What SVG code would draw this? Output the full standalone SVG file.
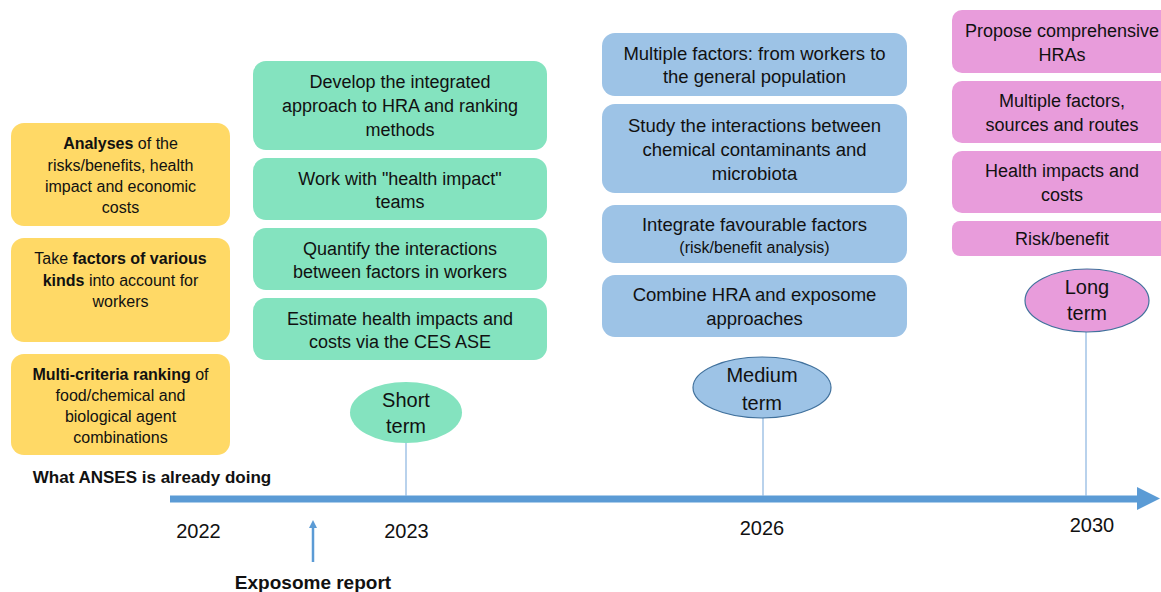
<svg xmlns="http://www.w3.org/2000/svg" width="1161" height="592" viewBox="0 0 1161 592">
<defs>
<style>
text{font-family:"Liberation Sans",Arial,sans-serif;fill:#111;text-anchor:middle}
.y{fill:#FFD966}
.g{fill:#84E3BF}
.b{fill:#9DC3E6}
.p{fill:#E89CDB}
.ty{font-size:16px}
.tb{font-size:18px}
.tl{font-size:18.5px}
.te{font-size:20px}
.bold{font-weight:bold}
.tick{stroke:#8AB4E0;stroke-width:1.2;fill:none}
.yr{font-size:20px}
</style>
<marker id="ah" markerWidth="8" markerHeight="8" refX="4" refY="4" orient="auto" markerUnits="userSpaceOnUse">
<path d="M0,0 L8,4 L0,8 z" fill="#5B9BD5"/>
</marker>
</defs>
<rect width="1161" height="592" fill="#fff"/>

<g id="connectors">
<rect x="170" y="495.5" width="970" height="7" fill="#5B9BD5"/>
<path d="M1137,487 L1160,498.5 L1137,510 z" fill="#5B9BD5"/>
<line class="tick" x1="406" y1="443" x2="406" y2="496"/>
<line class="tick" x1="763" y1="418" x2="763" y2="496"/>
<line class="tick" x1="1086" y1="332" x2="1086" y2="496"/>
<line x1="313" y1="562" x2="313" y2="524" stroke="#5B9BD5" stroke-width="2.5" marker-end="url(#ah)"/>
</g>

<g id="yellow1">
<rect class="y" x="11" y="123" width="219" height="103" rx="13"/>
<text class="ty" x="120.5" y="149"><tspan class="bold">Analyses</tspan> of the</text>
<text class="ty" x="120.5" y="170.5">risks/benefits, health</text>
<text class="ty" x="120.5" y="191.5">impact and economic</text>
<text class="ty" x="120.5" y="212.5">costs</text>
</g>
<g id="yellow2">
<rect class="y" x="11" y="238" width="219" height="104" rx="13"/>
<text class="ty" x="120.5" y="264">Take <tspan class="bold">factors of various</tspan></text>
<text class="ty" x="120.5" y="285.5"><tspan class="bold">kinds</tspan> into account for</text>
<text class="ty" x="120.5" y="306.5">workers</text>
</g>
<g id="yellow3">
<rect class="y" x="11" y="354" width="219" height="101" rx="13"/>
<text class="ty" x="120.5" y="380"><tspan class="bold">Multi-criteria ranking</tspan> of</text>
<text class="ty" x="120.5" y="400.5">food/chemical and</text>
<text class="ty" x="120.5" y="422">biological agent</text>
<text class="ty" x="120.5" y="443">combinations</text>
</g>

<g id="green1">
<rect class="g" x="253" y="61" width="294" height="89" rx="13"/>
<text class="tb" x="400" y="88">Develop the integrated</text>
<text class="tb" x="400" y="111.5">approach to HRA and ranking</text>
<text class="tb" x="400" y="136">methods</text>
</g>
<g id="green2">
<rect class="g" x="253" y="158" width="294" height="62" rx="13"/>
<text class="tb" x="400" y="184.5">Work with "health impact"</text>
<text class="tb" x="400" y="208">teams</text>
</g>
<g id="green3">
<rect class="g" x="253" y="228" width="294" height="62" rx="13"/>
<text class="tb" x="400" y="254.5">Quantify the interactions</text>
<text class="tb" x="400" y="278">between factors in workers</text>
</g>
<g id="green4">
<rect class="g" x="253" y="298" width="294" height="62" rx="13"/>
<text class="tb" x="400" y="324.5">Estimate health impacts and</text>
<text class="tb" x="400" y="347.5">costs via the CES ASE</text>
</g>

<g id="blue1">
<rect class="b" x="602" y="33" width="305" height="63" rx="13"/>
<text class="tl" x="754.5" y="59.5">Multiple factors: from workers to</text>
<text class="tl" x="754.5" y="83">the general population</text>
</g>
<g id="blue2">
<rect class="b" x="602" y="104" width="305" height="89" rx="13"/>
<text class="tl" x="754.5" y="131.5">Study the interactions between</text>
<text class="tl" x="754.5" y="155.5">chemical contaminants and</text>
<text class="tl" x="754.5" y="180">microbiota</text>
</g>
<g id="blue3">
<rect class="b" x="602" y="205" width="305" height="58" rx="13"/>
<text class="tl" x="754.5" y="230.5">Integrate favourable factors</text>
<text x="754.5" y="253" font-size="16">(risk/benefit analysis)</text>
</g>
<g id="blue4">
<rect class="b" x="602" y="275" width="305" height="62" rx="13"/>
<text class="tl" x="754.5" y="300.5">Combine HRA and exposome</text>
<text class="tl" x="754.5" y="324.5">approaches</text>
</g>

<g id="pink1">
<rect class="p" x="952" y="10" width="222" height="63" rx="10"/>
<text class="tb" x="1062" y="37">Propose comprehensive</text>
<text class="tb" x="1062" y="60.5">HRAs</text>
</g>
<g id="pink2">
<rect class="p" x="952" y="81" width="222" height="62" rx="10"/>
<text class="tb" x="1062" y="106.5">Multiple factors,</text>
<text class="tb" x="1062" y="130.5">sources and routes</text>
</g>
<g id="pink3">
<rect class="p" x="952" y="151" width="222" height="62" rx="10"/>
<text class="tb" x="1062" y="177">Health impacts and</text>
<text class="tb" x="1062" y="200.5">costs</text>
</g>
<g id="pink4">
<rect class="p" x="952" y="221" width="222" height="35" rx="8"/>
<text class="tb" x="1062" y="244.5">Risk/benefit</text>
</g>

<g id="short-term">
<ellipse cx="406" cy="412.5" rx="56" ry="30.5" fill="#84E3BF"/>
<text class="te" x="406" y="407">Short</text>
<text class="te" x="406" y="433">term</text>
</g>
<g id="medium-term">
<ellipse cx="762" cy="387.5" rx="69" ry="30.5" fill="#9DC3E6" stroke="#41719C" stroke-width="1.2"/>
<text class="te" x="762" y="382">Medium</text>
<text class="te" x="762" y="410">term</text>
</g>
<g id="long-term">
<ellipse cx="1087" cy="300.5" rx="62" ry="31.5" fill="#E89CDB" stroke="#41719C" stroke-width="1.2"/>
<text class="te" x="1087" y="294">Long</text>
<text class="te" x="1087" y="320">term</text>
</g>

<g id="labels">
<text x="152" y="482.5" font-size="17" font-weight="bold">What ANSES is already doing</text>
<text class="yr" x="198.5" y="537.5">2022</text>
<text class="yr" x="406.5" y="537.5">2023</text>
<text class="yr" x="762" y="535">2026</text>
<text class="yr" x="1092" y="532">2030</text>
<text x="313" y="589" font-size="19" font-weight="bold">Exposome report</text>
</g>
</svg>
